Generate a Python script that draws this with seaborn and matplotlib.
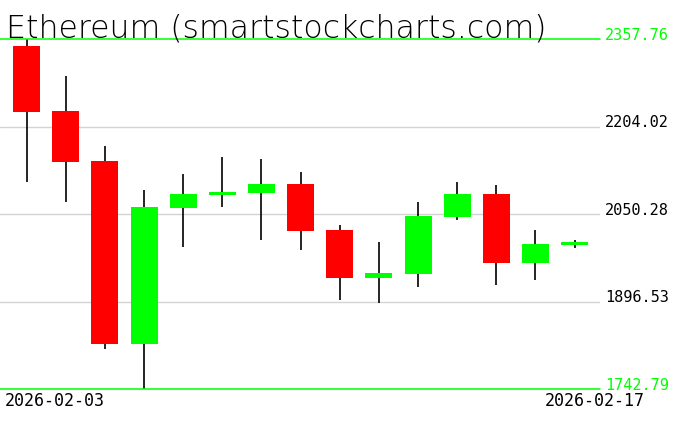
import numpy as np
import pandas as pd
import matplotlib
matplotlib.use("Agg")
import matplotlib.pyplot as plt
import seaborn as sns

# daily OHLC
dates = pd.date_range("2026-02-03", "2026-02-17", freq="D")
opens = [2345.5, 2231.3, 2143.4, 1822.4, 2060.8, 2083.7, 2087.7, 2103.0,
         2022.2, 1938.4, 1945.4, 2045.5, 2085.4, 1964.7, 1996.3]
highs = [2357.76, 2292.7, 2169.7, 2092.4, 2120.6, 2150.4, 2146.4, 2124.1,
         2030.9, 2001.1, 2071.4, 2106.5, 2101.2, 2022.2, 2004.6]
lows = [2107.0, 2071.9, 1813.6, 1742.79, 1992.8, 2063.1, 2005.1, 1987.5,
        1899.7, 1894.4, 1922.5, 2040.3, 1926.0, 1934.8, 1991.1]
closes = [2230.0, 2142.2, 1822.4, 2062.6, 2085.4, 2088.9, 2103.0, 2020.9,
          1938.4, 1946.6, 2046.8, 2085.4, 1964.7, 1997.6, 2001.1]

df = pd.DataFrame({"date": dates, "open": opens, "high": highs,
                   "low": lows, "close": closes})
df["x"] = np.arange(len(df))
df["up"] = df["close"] >= df["open"]
df["body_lo"] = df[["open", "close"]].min(axis=1)
df["body_h"] = (df["close"] - df["open"]).abs()

sns.set_theme(style="white")
plt.rcParams["font.family"] = ["DejaVu Sans"]

fig = plt.figure(figsize=(6.76, 4.31), dpi=100)
ax = fig.add_axes([0, 1 - 390 / 431, 600 / 676, 350 / 431])

ymin, ymax = df["low"].min(), df["high"].max()
levels = np.linspace(ymin, ymax, 5)

# grid + min/max lines
for lv in levels[1:-1]:
    ax.axhline(lv, color="#d3d3d3", lw=1, zorder=0)
for lv in (ymin, ymax):
    ax.axhline(lv, color="#00ff00", lw=1.1, zorder=3, clip_on=False)

# wicks
ax.vlines(df["x"], df["low"], df["high"], color="black", lw=1.2, zorder=1)

# bodies
colors = np.where(df["up"], "#00ff00", "#ff0000")
ax.bar(df["x"], df["body_h"], bottom=df["body_lo"], width=0.69,
       color=colors, linewidth=0, zorder=2)

ax.set_xlim(-0.68, len(df) - 1 + 0.65)
ax.set_ylim(ymin, ymax)
ax.set_xticks([])
ax.set_yticks([])
for s in ax.spines.values():
    s.set_visible(False)

# price labels on the right
for i, lv in enumerate(levels):
    col = "#00ff00" if i in (0, len(levels) - 1) else "black"
    ax.text(1.008, lv, f"{lv:.2f}", color=col, fontsize=11,
            family="DejaVu Sans Mono",
            transform=ax.get_yaxis_transform(), ha="left", va="baseline",
            clip_on=False)

# date labels
fig.text(5 / 676, 1 - 406 / 431, df["date"].iloc[0].strftime("%Y-%m-%d"),
         fontsize=12, family="DejaVu Sans Mono", color="black",
         ha="left", va="baseline")
fig.text(645 / 676, 1 - 406 / 431, df["date"].iloc[-1].strftime("%Y-%m-%d"),
         fontsize=12, family="DejaVu Sans Mono", color="black",
         ha="right", va="baseline")

fig.text(6 / 676, 1 - 38 / 431, "Ethereum (smartstockcharts.com)",
         fontsize=22.7, fontweight="light", color="black",
         ha="left", va="baseline")

fig.savefig("out.png", dpi=100, facecolor="white")
